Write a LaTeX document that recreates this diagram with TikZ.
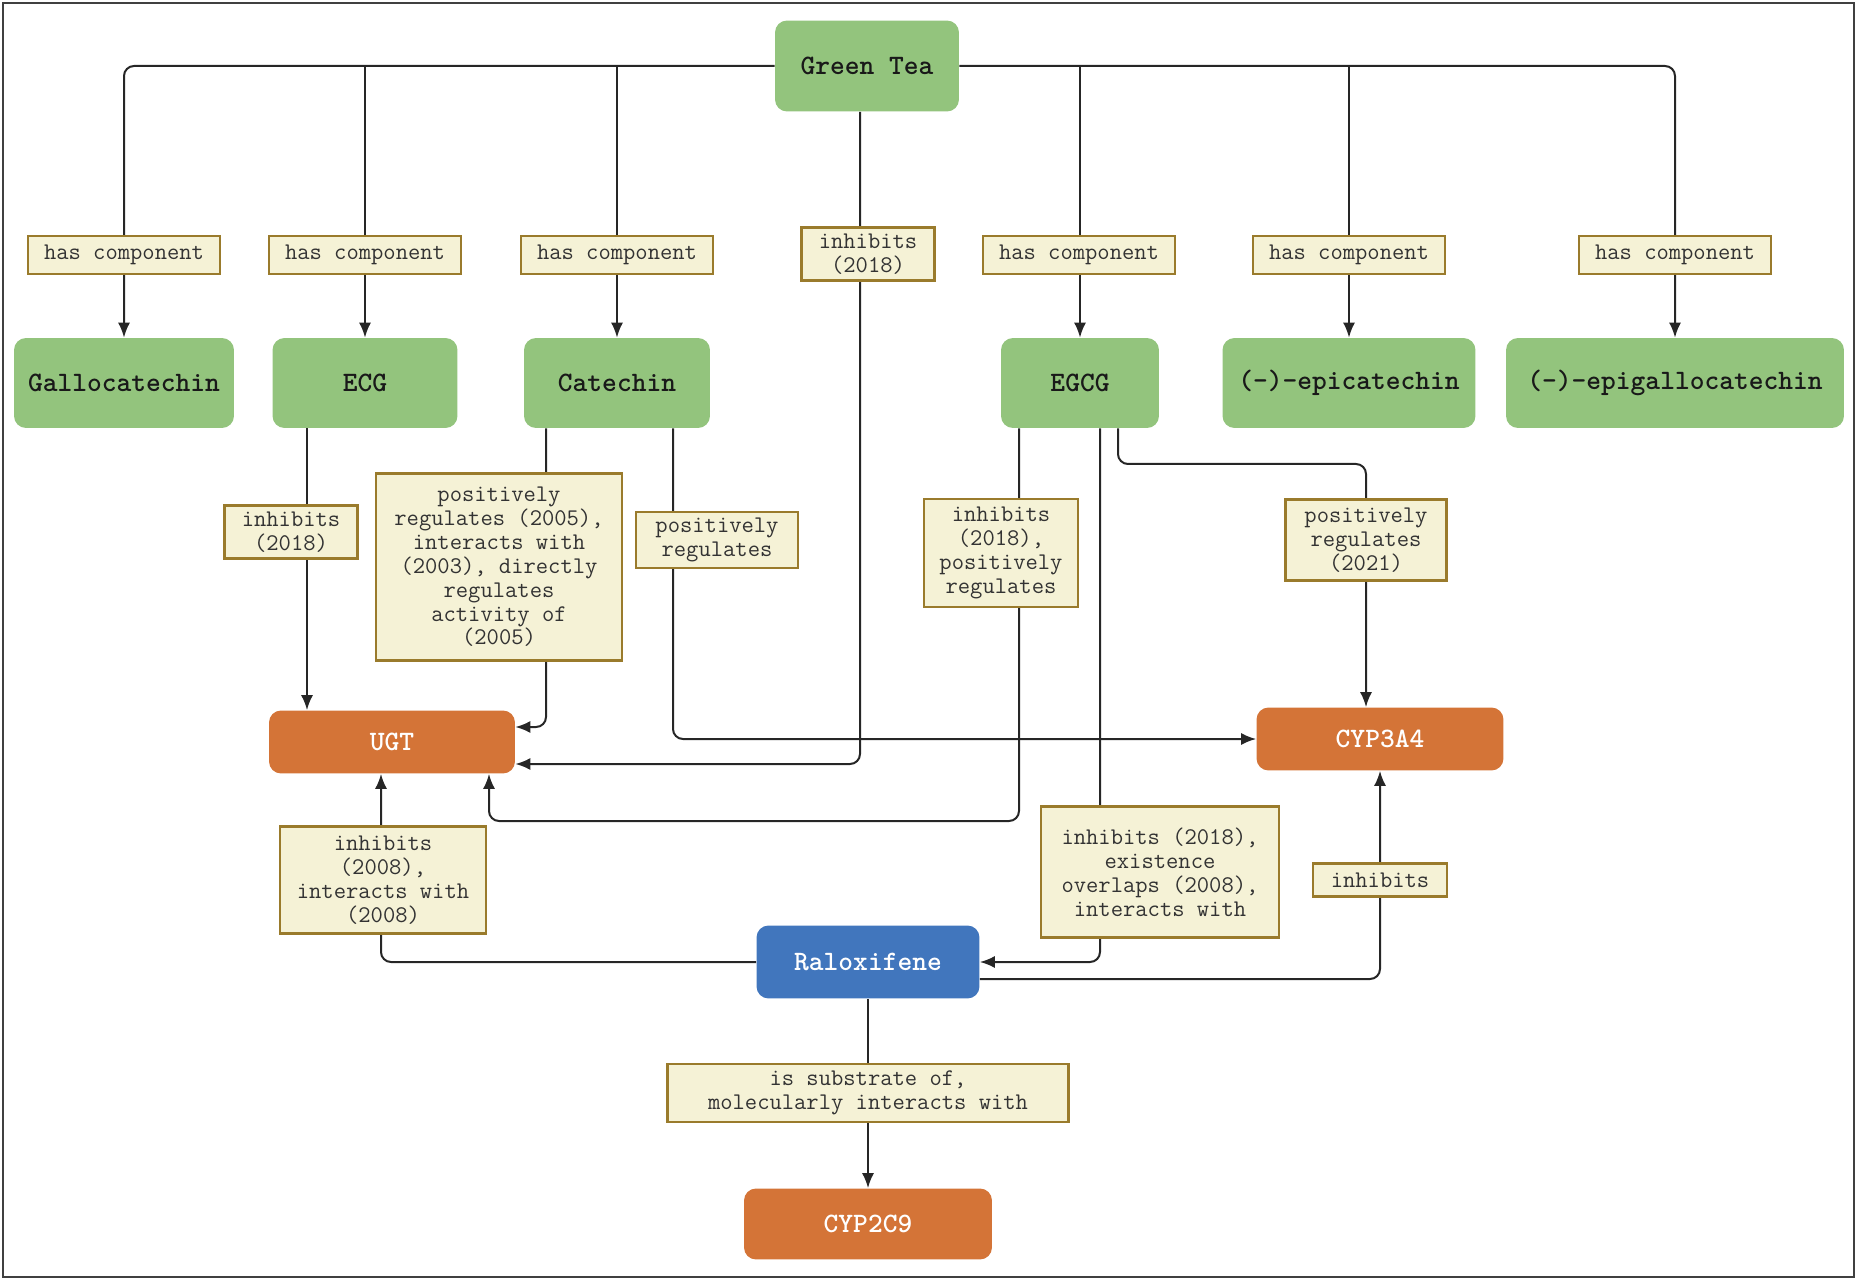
\documentclass[tikz,border=0pt]{standalone}
\usetikzlibrary{arrows.meta}
\definecolor{teagreen}{HTML}{93C47D}
\definecolor{enzorange}{HTML}{D47437}
\definecolor{drugblue}{HTML}{4176BD}
\definecolor{relfill}{HTML}{F5F2D6}
\definecolor{reldraw}{HTML}{9A7B2C}
\tikzset{
  compound/.style={fill=teagreen, rounded corners=0.24cm, minimum height=1.8cm, inner sep=2pt, align=center, text=black!90, font=\ttfamily\bfseries\fontsize{16}{18}\selectfont},
  enzyme/.style={fill=enzorange, rounded corners=0.24cm, inner sep=2pt, align=center, text=white, font=\ttfamily\bfseries\fontsize{16}{18}\selectfont},
  drug/.style={fill=drugblue, rounded corners=0.24cm, inner sep=2pt, align=center, text=white, font=\ttfamily\bfseries\fontsize{16}{18}\selectfont},
  rel/.style={draw=reldraw, fill=relfill, line width=0.045cm, inner sep=2pt, align=center, text=black!80, font=\ttfamily\fontsize{13.6}{13.6}\selectfont},
  link/.style={draw=black!85, line width=0.04cm, rounded corners=0.2cm, ->}
}
\begin{document}
\begin{tikzpicture}[x=0.02cm, y=-0.02cm, >={Latex[length=0.3cm,width=0.24cm]}]
\useasboundingbox (0,0) rectangle (1857,1280);
\draw[draw=black!75, line width=0.05cm] (3,3) rectangle (1854,1277);

\node[compound, minimum width=3.68cm, minimum height=1.82cm] (tea) at (867,66) {Green Tea};
\node[compound, minimum width=4.4cm] (gallo) at (124,383) {Gallocatechin};
\node[compound, minimum width=3.7cm] (ecg) at (365,383) {ECG};
\node[compound, minimum width=3.72cm] (cat) at (617,383) {Catechin};
\node[compound, minimum width=3.16cm] (egcg) at (1080,383) {EGCG};
\node[compound, minimum width=5.06cm] (epicat) at (1349,383) {(-)-epicatechin};
\node[compound, minimum width=6.76cm] (epigallo) at (1675,383) {(-)-epigallocatechin};

\node[enzyme, minimum width=4.92cm, minimum height=1.26cm] (ugt) at (392,742) {UGT};
\node[enzyme, minimum width=4.94cm, minimum height=1.26cm] (cyp3a4) at (1380,739) {CYP3A4};
\node[drug, minimum width=4.46cm, minimum height=1.46cm] (ralox) at (868,962) {Raloxifene};
\node[enzyme, minimum width=4.96cm, minimum height=1.42cm] (cyp2c9) at (868,1224) {CYP2C9};

\coordinate (a7) at (860,764);
\coordinate (a8) at (307,0);
\coordinate (a9) at (546,727);
\coordinate (a10) at (673,0);
\coordinate (a11) at (1019,821);
\coordinate (a11b) at (489,821);
\coordinate (a12) at (1100,0);
\coordinate (a13) at (1118,464);
\coordinate (a13b) at (1366,464);
\coordinate (a14) at (381,0);
\coordinate (a15) at (0,979);

\draw[link] (tea.west) -| (gallo.north);
\draw[link] (tea.west -| ecg.north) -- (ecg.north);
\draw[link] (tea.west -| cat.north) -- (cat.north);
\draw[link] (tea.east -| egcg.north) -- (egcg.north);
\draw[link] (tea.east -| epicat.north) -- (epicat.north);
\draw[link] (tea.east) -| (epigallo.north);
\draw[link] (tea.south -| a7) |- (ugt.east |- a7);
\draw[link] (ecg.south -| a8) -- (ugt.north -| a8);
\draw[link] (cat.south -| a9) |- (ugt.east |- a9);
\draw[link] (cat.south -| a10) |- (cyp3a4.west);
\draw[link] (egcg.south -| a11) -- (a11) -- (a11b) -- (ugt.south -| a11b);
\draw[link] (egcg.south -| a12) |- (ralox.east);
\draw[link] (egcg.south -| a13) -- (a13) -- (a13b) -- (cyp3a4.north -| a13b);
\draw[link] (ralox.west) -| (ugt.south -| a14);
\draw[link] (ralox.east |- a15) -| (cyp3a4.south);
\draw[link] (ralox.south) -- (cyp2c9.north);

\node[rel, minimum width=3.84cm, minimum height=0.76cm] (hc1) at (124,255) {has component};
\node[rel, minimum width=3.84cm, minimum height=0.76cm] (hc2) at (365,255) {has component};
\node[rel, minimum width=3.84cm, minimum height=0.76cm] (hc3) at (617,255) {has component};
\node[rel, minimum width=3.84cm, minimum height=0.76cm] (hc4) at (1079,255) {has component};
\node[rel, minimum width=3.84cm, minimum height=0.76cm] (hc5) at (1349,255) {has component};
\node[rel, minimum width=3.84cm, minimum height=0.76cm] (hc6) at (1675,255) {has component};
\node[rel, minimum width=2.66cm, minimum height=1.06cm] (lteaugt) at (868,254) {inhibits\\(2018)};
\node[rel, minimum width=2.66cm, minimum height=1.06cm] (lecgugt) at (291,532) {inhibits\\(2018)};
\node[rel, minimum width=4.92cm, minimum height=3.74cm] (lcatugt) at (499,567) {positively\\regulates (2005),\\interacts with\\(2003), directly\\regulates\\activity of\\(2005)};
\node[rel, minimum width=3.24cm, minimum height=1.12cm] (lcatcyp) at (717,540) {positively\\regulates};
\node[rel, minimum width=3.08cm, minimum height=2.16cm] (legcgugt) at (1001,553) {inhibits\\(2018),\\positively\\regulates};
\node[rel, minimum width=4.76cm, minimum height=2.62cm] (legcgral) at (1160,872) {inhibits (2018),\\existence\\overlaps (2008),\\interacts with};
\node[rel, minimum width=3.22cm, minimum height=1.62cm] (legcgcyp) at (1366,540) {positively\\regulates\\(2021)};
\node[rel, minimum width=4.12cm, minimum height=2.14cm] (lralugt) at (383,880) {inhibits\\(2008),\\interacts with\\(2008)};
\node[rel, minimum width=2.68cm, minimum height=0.66cm] (lralcyp) at (1380,880) {inhibits};
\node[rel, minimum width=8.02cm, minimum height=1.16cm] (lralcyp2) at (868,1093) {is substrate of,\\molecularly interacts with};
\end{tikzpicture}
\end{document}
